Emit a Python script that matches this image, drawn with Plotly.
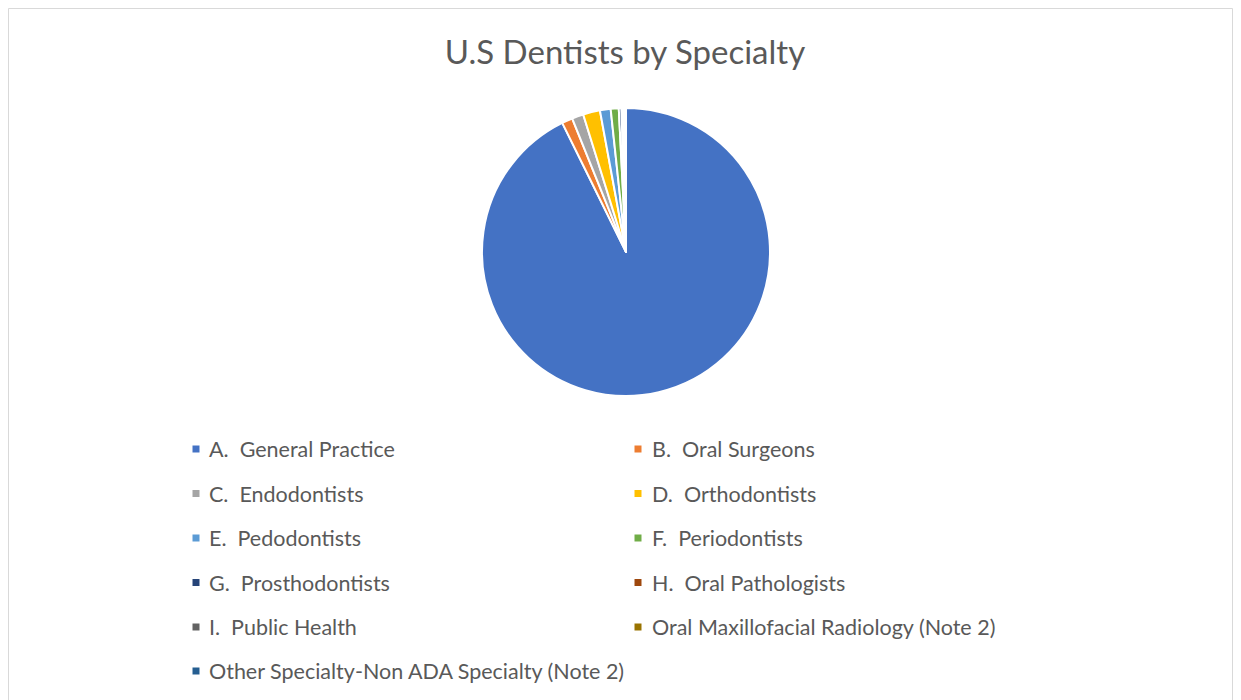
import plotly.graph_objects as go

labels = [
    "A.  General Practice",
    "B.  Oral Surgeons",
    "C.  Endodontists",
    "D.  Orthodontists",
    "E.  Pedodontists",
    "F.  Periodontists",
    "G.  Prosthodontists",
    "H.  Oral Pathologists",
    "I.  Public Health",
    "Oral Maxillofacial Radiology (Note 2)",
    "Other Specialty-Non ADA Specialty (Note 2)",
]
values = [92.7, 1.2, 1.3, 1.9, 1.2, 0.9, 0.3, 0.1, 0.2, 0.1, 0.1]
colors = ["#4472C4", "#ED7D31", "#A5A5A5", "#FFC000", "#5B9BD5", "#70AD47",
          "#264478", "#9E480E", "#636363", "#997300", "#255E91"]
title_text = "U.S Dentists by Specialty"

W, H = 1241, 700
OFF = 8  # page body margin
FONT = "Lato, Carlito, Calibri, sans-serif"
TXT = "#595959"

def px(x):
    return (x - OFF) / W

def py(y):
    return 1 - (y - OFF) / H

fig = go.Figure()
fig.add_trace(go.Pie(
    labels=labels,
    values=values,
    sort=False,
    direction="clockwise",
    rotation=0,
    textinfo="none",
    marker=dict(colors=colors, line=dict(color="white", width=2)),
    domain=dict(x=[px(626 - 144), px(626 + 144)], y=[py(252 + 144), py(252 - 144)]),
    showlegend=False,
    hole=0,
))

# custom two-column legend built from the label/colour lists
annotations = []
shapes = []
row_y = [449, 493.5, 538, 582.5, 627, 671]
col_marker_x = [196, 638]
col_text_x = [207, 650]
for i, (lab, col) in enumerate(zip(labels, colors)):
    r, c = divmod(i, 2)
    yc = row_y[r]
    mx = col_marker_x[c]
    shapes.append(dict(type="rect", xref="paper", yref="paper",
                       x0=px(mx - 3.5), x1=px(mx + 3.5), y0=py(yc + 3.5), y1=py(yc - 3.5),
                       fillcolor=col, line=dict(width=0)))
    annotations.append(dict(text=lab, x=px(col_text_x[c]), y=py(yc), xref="paper", yref="paper",
                            xanchor="left", yanchor="middle", showarrow=False,
                            font=dict(family=FONT, size=21.5, color=TXT)))

# chart frame
shapes.append(dict(type="rect", xref="paper", yref="paper",
                   x0=px(8.5), x1=px(1232.5), y0=-0.05, y1=py(8.5),
                   line=dict(color="#D9D9D9", width=1), fillcolor="rgba(0,0,0,0)", layer="below"))

fig.update_layout(
    width=W, height=H,
    margin=dict(l=0, r=0, t=0, b=0),
    paper_bgcolor="white",
    plot_bgcolor="white",
    title=dict(text=title_text, x=px(625), xanchor="center", y=py(52), yanchor="middle",
               font=dict(family=FONT, size=33, color=TXT)),
    shapes=shapes,
    annotations=annotations,
)

fig.write_html("out.html")
